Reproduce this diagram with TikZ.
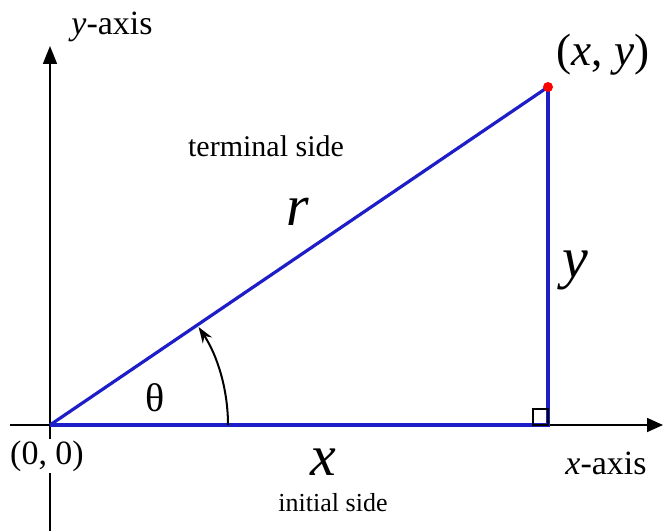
\documentclass[tikz,border=0pt]{standalone}
\usepackage{fontspec}
\setmainfont{Liberation Serif}
\usetikzlibrary{arrows.meta,calc,positioning}

\definecolor{sideblue}{RGB}{30,30,200}
\tikzset{
  side/.style={sideblue,line width=1.6pt},
  axis/.style={black,line width=0.9pt},
  bigvar/.style={font=\fontsize{29}{30}\selectfont\itshape,inner sep=0pt},
  axislbl/.style={font=\fontsize{17}{18}\selectfont,fill=white,inner sep=1pt}
}

\begin{document}
\begin{tikzpicture}[x=0.5pt,y=0.5pt,>=Stealth]
\useasboundingbox (0,0) rectangle (664,531);
% points of the triangle
\coordinate (O) at (50,106);
\coordinate (P) at (548,444);
\coordinate (Q) at (548,106);
\coordinate (xl) at (10,106);
\coordinate (xr) at (663,106);
\coordinate (yb) at (50,0);
\coordinate (yt) at (50,485);
% axes
\draw[axis,-{Triangle[length=8pt,width=7pt]}] (xl)--(xr);
\draw[axis,-{Triangle[length=9pt,width=7pt]}] (yb)--(yt);
% sides
\draw[side] (O)--(Q)--(P);
\draw[side] (O)--(P);
\draw[line width=0.6pt] ($(Q)+(-15,0)$) rectangle ($(Q)+(0,16)$);
\fill[red] (P) circle (2.5pt);
% angle
\draw[line width=1pt,-{Stealth[length=8pt,width=5.5pt]}] (228,106) arc (0:33.4:178);
% labels
\node[axislbl] (ylab) at (112,504) {\textit{y}-axis};
\node[axislbl] (xlab) at (606,68) {\textit{x}-axis};
\node[axislbl] (olab) at (47,75) {(0, 0)};
\node[font=\fontsize{22.6}{24}\selectfont] (plab) at (603,476) {(\textit{x}, \textit{y})};
\node[font=\fontsize{15}{16}\selectfont] (term) at (266,385) {terminal side};
\node[font=\fontsize{13}{14}\selectfont] (init) at (333,28) {initial side};
\node[bigvar] (rlab) at (298,319) {r};
\node[bigvar] (ylen) at (575,261) {y};
\node[bigvar] (xlen) at (323,69) {x};
\node[font=\fontsize{20}{21}\selectfont] (th) at (155,133) {θ};
\end{tikzpicture}
\end{document}
